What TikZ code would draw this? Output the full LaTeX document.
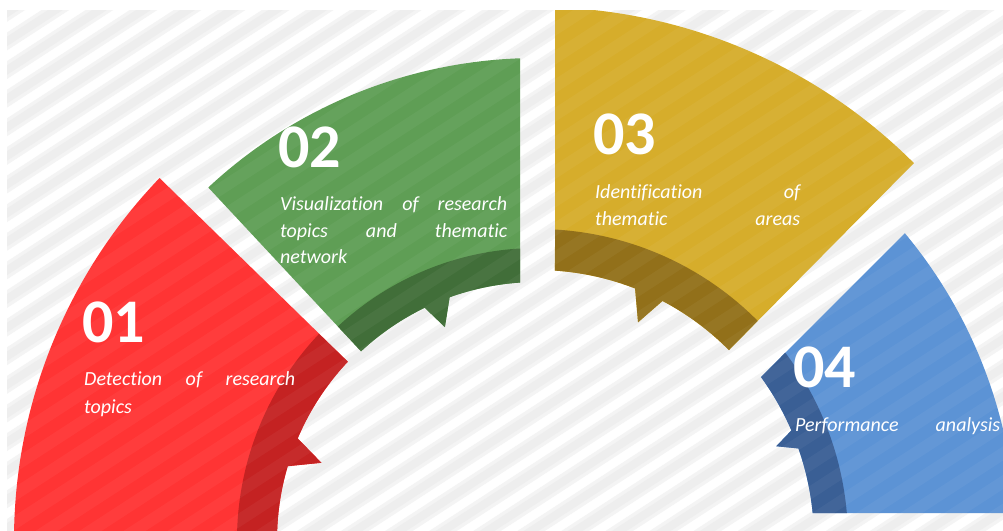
\documentclass[tikz,border=0pt]{standalone}
\usepackage{fontspec}
\setmainfont[Ligatures=NoCommon]{Carlito}
\definecolor{redA}{HTML}{FF3434}
\definecolor{redB}{HTML}{C42222}
\definecolor{greenA}{HTML}{5F9E55}
\definecolor{greenB}{HTML}{416E39}
\definecolor{yellowA}{HTML}{D6AD2B}
\definecolor{yellowB}{HTML}{92701A}
\definecolor{blueA}{HTML}{5C93D5}
\definecolor{blueB}{HTML}{3A5F95}
\definecolor{stripesoft}{HTML}{F4F4F4}
\definecolor{stripecore}{HTML}{EEEEEE}
\begin{document}
\begin{tikzpicture}[x=1pt,y=1pt,
  num/.style={font=\fontsize{62}{62}\selectfont\bfseries, text=white, inner sep=0pt, anchor=base west},
  desc/.style={font=\fontsize{20}{24}\selectfont\itshape, text=white, inner sep=0pt, anchor=base west},
  stripeA/.style={draw=stripesoft, line width=15pt},
  stripeB/.style={draw=stripecore, line width=8pt},
  glint/.style={draw=white, opacity=0.045, line width=12pt}]
\useasboundingbox (0,0) rectangle (1003,530);
\fill[white] (0,0) rectangle (1003,530);
\begin{scope}
\clip (7,0) rectangle (1003,519);
% background stripes
\begin{scope}[shift={(500,265)},rotate=33]
  \foreach \i in {-40,...,40} {
    \draw[stripeA] (-900,\i*24) -- (900,\i*24);
    \draw[stripeB] (-900,\i*24) -- (900,\i*24);
  }
\end{scope}
\begin{scope}[shift={(537,-10)}]
  % red segment
  \fill[redA] (136.2:523) arc[start angle=136.2,end angle=182,radius=523]
    -- (182:260) arc[start angle=182,end angle=163.5,radius=260]
    -- (160.3:229) -- (157:260) arc[start angle=157,end angle=136.7,radius=260] -- cycle;
  \fill[redB] (136.6:300) arc[start angle=136.6,end angle=182,radius=300]
    -- (182:260) arc[start angle=182,end angle=163.5,radius=260]
    -- (160.3:229) -- (157:260) arc[start angle=157,end angle=136.7,radius=260] -- cycle;
  % green segment
  \fill[greenA] (133:482) arc[start angle=133,end angle=92.02,radius=482]
    -- (93.78:258) arc[start angle=93.78,end angle=109.8,radius=258]
    -- (113.4:232) -- (115.8:258) arc[start angle=115.8,end angle=133,radius=258] -- cycle;
  \fill[greenB] (133:292) arc[start angle=133,end angle=93.34,radius=292]
    -- (93.78:258) arc[start angle=93.78,end angle=109.8,radius=258]
    -- (113.4:232) -- (115.8:258) arc[start angle=115.8,end angle=133,radius=258] -- cycle;
  % yellow segment
  \fill[yellowA] (88.06:533) arc[start angle=88.06,end angle=45,radius=533]
    -- (44.7:270) arc[start angle=44.7,end angle=62.3,radius=270]
    -- (65.1:240) -- (68.7:270) arc[start angle=68.7,end angle=86.18,radius=270] -- cycle;
  \fill[yellowB] (86.68:311) arc[start angle=86.68,end angle=44.8,radius=311]
    -- (44.7:270) arc[start angle=44.7,end angle=62.3,radius=270]
    -- (65.1:240) -- (68.7:270) arc[start angle=68.7,end angle=86.18,radius=270] -- cycle;
  % blue segment
  \fill[blueA] (39.83:479) arc[start angle=39.83,end angle=3.23,radius=479]
    -- (5.59:277) arc[start angle=5.59,end angle=19.3,radius=277]
    -- (21.4:257) -- (23.3:277) arc[start angle=23.3,end angle=36.04,radius=277] -- cycle;
  \fill[blueB] (37.03:311) arc[start angle=37.03,end angle=4.98,radius=311]
    -- (5.59:277) arc[start angle=5.59,end angle=19.3,radius=277]
    -- (21.4:257) -- (23.3:277) arc[start angle=23.3,end angle=36.04,radius=277] -- cycle;
\end{scope}
% faint stripes over the segments
\begin{scope}[shift={(500,265)},rotate=33]
  \foreach \i in {-40,...,40} \draw[glint] (-900,\i*24) -- (900,\i*24);
\end{scope}
\end{scope}
% texts
\node[num] (n1) at (82,187) {01};
\node[desc] (d1a) at (84,144) {\makebox[211pt][s]{Detection of research}};
\node[desc] (d1b) at (84,117) {topics};
\node[num] (n2) at (278,362) {02};
\node[desc] (d2a) at (280,319) {\makebox[227pt][s]{Visualization of research}};
\node[desc] (d2b) at (280,292) {\makebox[227pt][s]{topics and thematic}};
\node[desc] (d2c) at (280,266) {network};
\node[num] (n3) at (593,375) {03};
\node[desc] (d3a) at (595,331) {\makebox[205pt][s]{Identification of}};
\node[desc] (d3b) at (595,304) {\makebox[205pt][s]{thematic areas}};
\node[num] (n4) at (793,142) {04};
\node[desc] (d4a) at (795,99) {\makebox[205pt][s]{Performance analysis}};
\end{tikzpicture}
\end{document}
